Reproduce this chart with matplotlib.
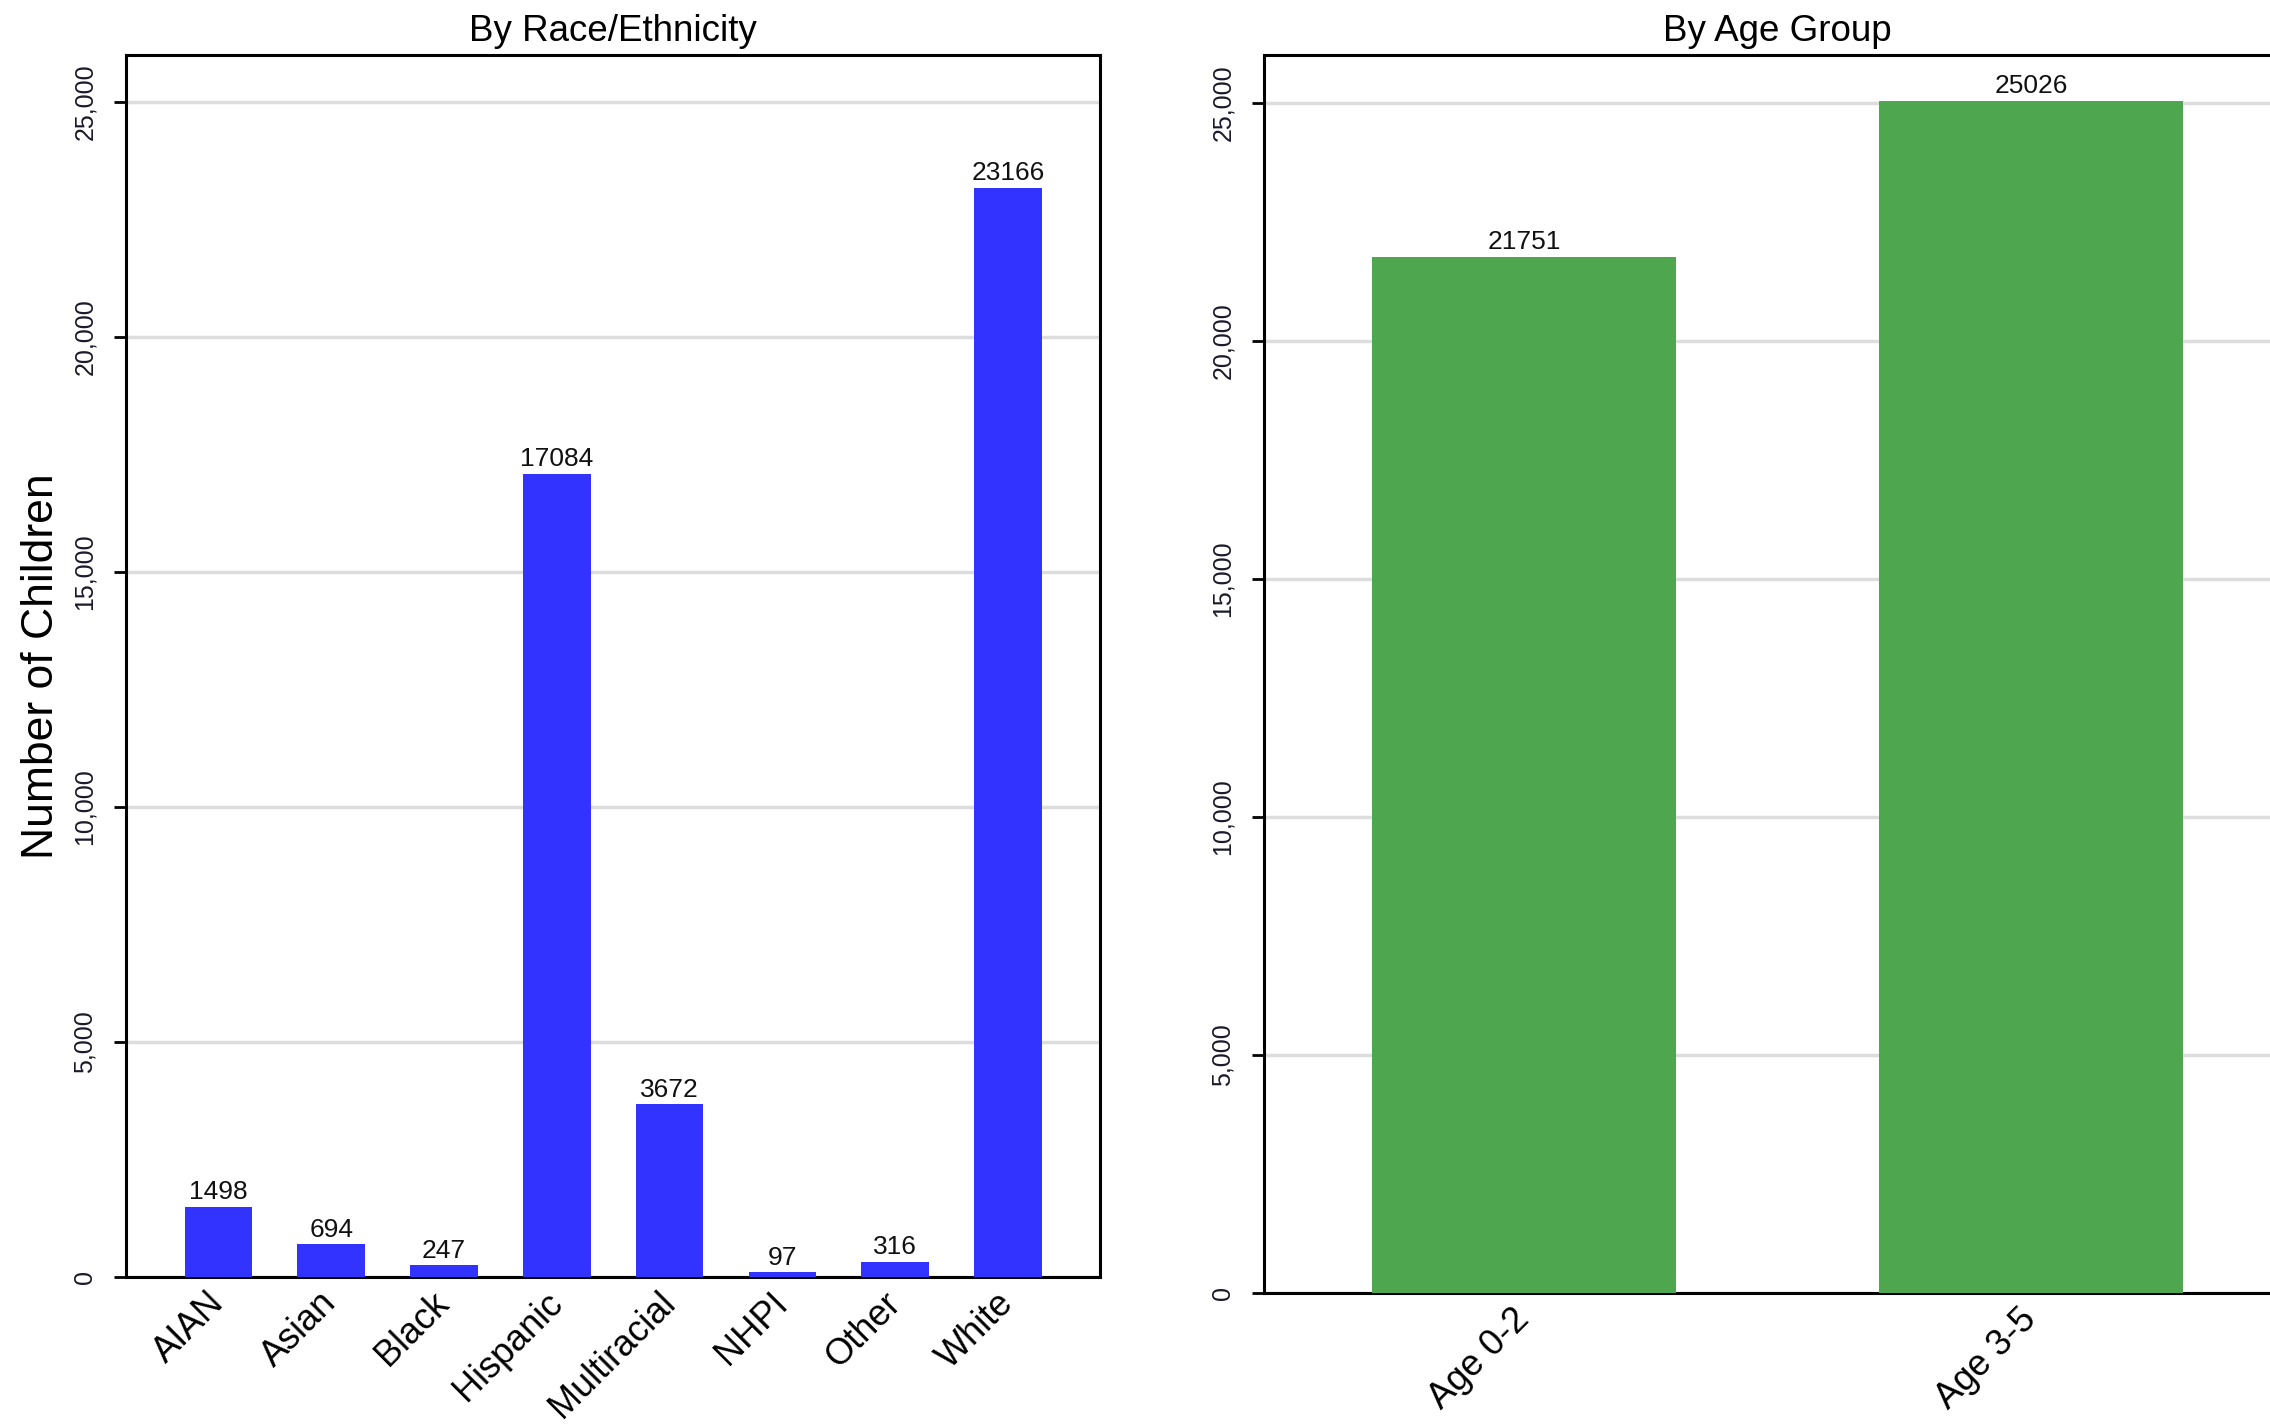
import matplotlib
matplotlib.use("Agg")
import matplotlib.pyplot as plt
from matplotlib.ticker import FuncFormatter

plt.rcParams['font.family'] = ['Liberation Sans', 'DejaVu Sans']

race_labels = ['AIAN', 'Asian', 'Black', 'Hispanic', 'Multiracial', 'NHPI', 'Other', 'White']
race_counts = [1498, 694, 247, 17084, 3672, 97, 316, 23166]

age_labels = ['Age 0-2', 'Age 3-5']
age_counts = [21751, 25026]

yticks = [0, 5000, 10000, 15000, 20000, 25000]

fig = plt.figure(figsize=(22.7, 14.24), dpi=100)
ax1 = fig.add_axes([0.0555, 0.1032, 0.4293, 0.8582])
ax2 = fig.add_axes([0.5568, 0.0920, 0.4524, 0.8694])

fmt = FuncFormatter(lambda v, p: f"{int(v):,}")


def style(ax, labels, counts, color, xlim):
    x = range(len(labels))
    bars = ax.bar(x, counts, width=0.6, color=color, zorder=3)
    for b, v in zip(bars, counts):
        ax.text(b.get_x() + b.get_width() / 2, v + 60, str(v),
                ha='center', va='bottom', fontsize=19, color='#111111', zorder=4)
    ax.set_xlim(*xlim)
    ax.set_ylim(0, 26000)
    ax.set_yticks(yticks)
    ax.yaxis.set_major_formatter(fmt)
    ax.grid(axis='y', color='#dddddd', linewidth=2.5, zorder=0)
    ax.set_axisbelow(True)
    ax.set_xticks(list(x))
    ax.set_xticklabels(labels, rotation=45, ha='right', va='center',
                       rotation_mode='anchor', fontsize=26)
    for lab in ax.get_yticklabels():
        lab.set_rotation(90)
        lab.set_va('center')
        lab.set_fontsize(18)
        lab.set_color('#1a1a2a')
    ax.tick_params(axis='x', length=0, pad=15)
    ax.tick_params(axis='y', length=9, width=2, pad=12)
    for s in ax.spines.values():
        s.set_linewidth(2.2)
        s.set_color('black')


style(ax1, race_labels, race_counts, '#3333ff', (-0.82, 7.82))
style(ax2, age_labels, age_counts, '#4ea64e', (-0.513, 1.513))

ax1.set_title('By Race/Ethnicity', fontsize=26.5, pad=10)
ax2.set_title('By Age Group', fontsize=26.5, pad=10)
ax1.set_ylabel('Number of Children', fontsize=32, labelpad=8)

fig.savefig('out.png', dpi=100)
